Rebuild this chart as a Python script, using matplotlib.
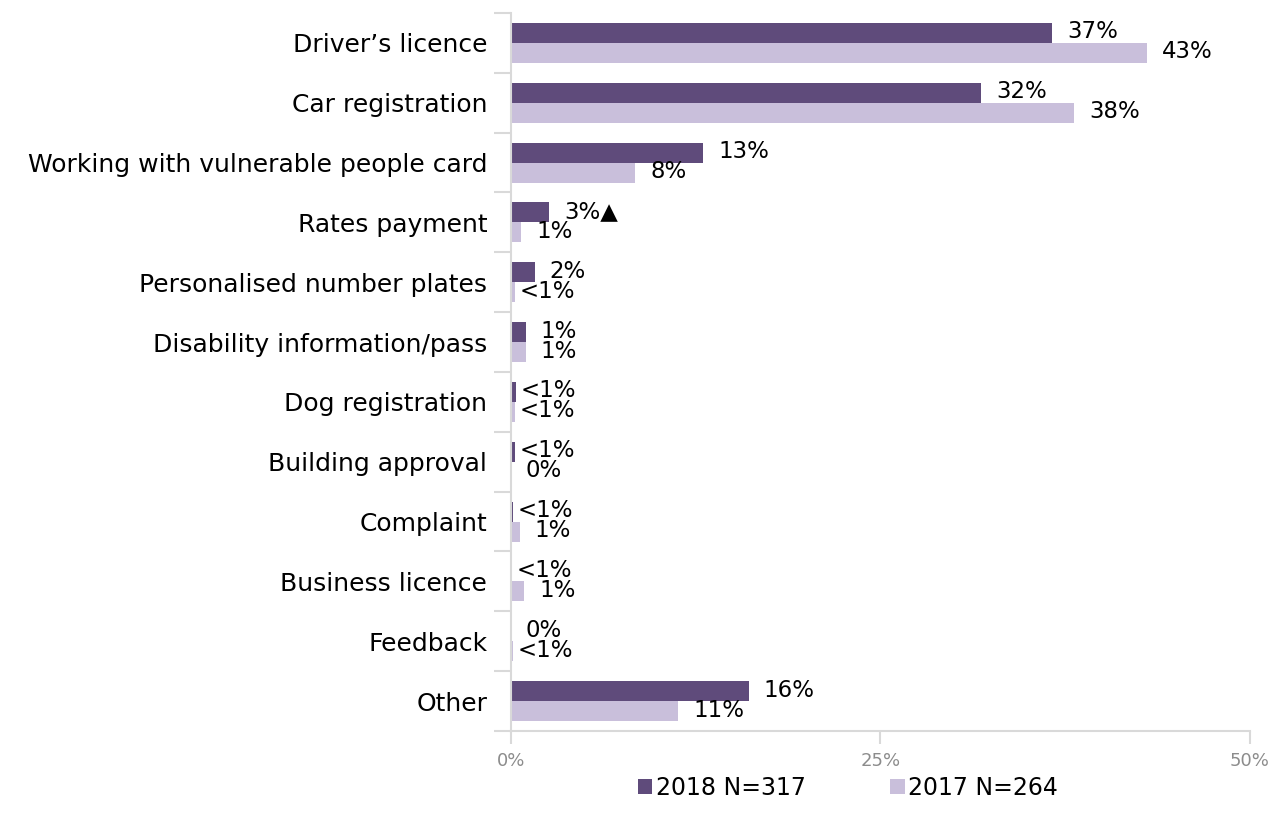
import numpy as np
import matplotlib.pyplot as plt
from matplotlib.ticker import FixedLocator, PercentFormatter

categories = ["Driver\u2019s licence", "Car registration", "Working with vulnerable people card",
              "Rates payment", "Personalised number plates", "Disability information/pass",
              "Dog registration", "Building approval", "Complaint", "Business licence",
              "Feedback", "Other"]
vals_2018 = [36.6, 31.8, 13.0, 2.6, 1.6, 1.0, 0.35, 0.3, 0.15, 0.1, 0.0, 16.1]
vals_2017 = [43.0, 38.1, 8.4, 0.7, 0.3, 1.0, 0.3, 0.0, 0.6, 0.9, 0.15, 11.3]
series_names = ["2018 N=317", "2017 N=264"]
flags_2018 = ["", "", "", "\u25b2", "", "", "", "", "", "", "", ""]

dark = "#5f4b7b"
light = "#c9bfdb"
grey = "#d9d9d9"
plt.rcParams['font.family'] = ['DejaVu Sans']

def fmt(v):
    if v == 0:
        return "0%"
    if v < 0.5:
        return "<1%"
    return "%d%%" % round(v)

fig = plt.figure(figsize=(12.79, 8.13), dpi=100)
ax = fig.add_axes([0.3995, 0.1009, 0.5778, 0.8831])

y = np.arange(len(categories))
h = 0.335
b1 = ax.barh(y - h/2, vals_2018, height=h, color=dark, label=series_names[0])
b2 = ax.barh(y + h/2, vals_2017, height=h, color=light, label=series_names[1])

# value labels just past the bar ends
for bars, vals, flags in [(b1, vals_2018, flags_2018), (b2, vals_2017, [""]*len(vals_2017))]:
    for r, v, f in zip(bars, vals, flags):
        s = fmt(v)
        off = 4 if s.startswith("<") else 15
        ax.annotate(s + f, (v, r.get_y() + r.get_height()/2), xytext=(off, 1),
                    textcoords="offset pixels", ha="left", va="center",
                    fontsize=16.5, color="black")

ax.set_xlim(0, 50)
ax.set_ylim(len(categories) - 0.5, -0.5)
ax.xaxis.set_major_locator(FixedLocator([0, 25, 50]))
ax.xaxis.set_major_formatter(PercentFormatter(decimals=0))
ax.set_yticks(y)
ax.set_yticklabels(categories, fontsize=18)
ax.yaxis.set_minor_locator(FixedLocator(np.arange(-0.5, len(categories), 1)))
ax.tick_params(axis="y", which="major", length=0, pad=17)
ax.tick_params(axis="y", which="minor", length=12, color=grey, width=1.5)
ax.tick_params(axis="x", length=9, color=grey, width=1.5, labelsize=13,
               labelcolor="#8c8c8c", pad=6)

for s in ["top", "right"]:
    ax.spines[s].set_visible(False)
for s in ["left", "bottom"]:
    ax.spines[s].set_color(grey)
    ax.spines[s].set_linewidth(1.5)

leg = fig.legend(handles=[b1, b2], loc="center", bbox_to_anchor=(0.663, 0.031), ncol=2,
                 frameon=False, fontsize=17, handlelength=0.6, handleheight=0.6,
                 handletextpad=0.15, columnspacing=3.6)

fig.savefig("out.png", dpi=100)
